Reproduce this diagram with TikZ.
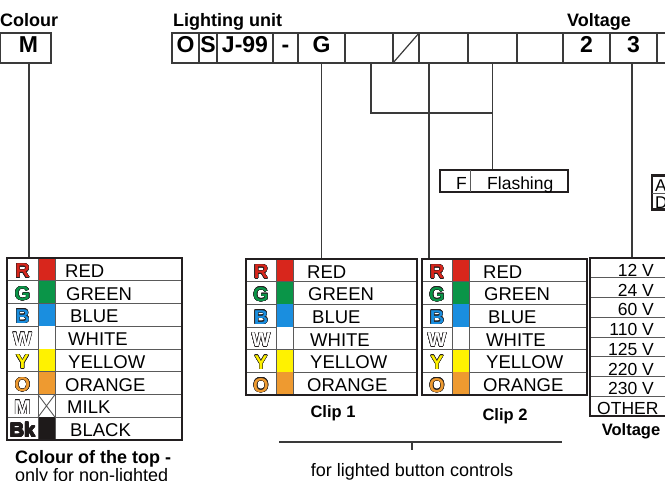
\documentclass[tikz,border=0pt]{standalone}
\usepackage{fontspec}
\setmainfont{Liberation Sans}
\usepackage[copies]{contour}
\usetikzlibrary{positioning}
\definecolor{inkdark}{HTML}{231F20}
\definecolor{wiregray}{HTML}{3A3A3A}
\definecolor{rulegray}{HTML}{5A5A5A}
\definecolor{capred}{HTML}{D8261C}
\definecolor{capgreen}{HTML}{0A9548}
\definecolor{capblue}{HTML}{1A8EDF}
\definecolor{capyellow}{HTML}{FFF200}
\definecolor{caporange}{HTML}{EE9A30}
\definecolor{capblack}{HTML}{1E1A1A}
\contourlength{0.45pt}
\tikzset{
  cell/.style={rectangle,draw=wiregray,line width=1.2pt,minimum height=30pt,inner sep=0pt,text height=13pt,text depth=4pt,font=\fontsize{23}{23}\selectfont\bfseries},
  frame/.style={rectangle,draw=inkdark,line width=2.8pt,inner sep=0pt},
  wire/.style={draw=wiregray,line width=1.2pt},
  rule/.style={draw=rulegray,line width=0.9pt},
  title/.style={anchor=base west,inner sep=0pt,font=\fontsize{18}{18}\selectfont\bfseries},
  caption/.style={anchor=base,inner sep=0pt,font=\fontsize{16.5}{16.5}\selectfont\bfseries},
  entry/.style={anchor=base west,inner sep=0pt,font=\fontsize{18.5}{18.5}\selectfont},
  keyletter/.style={anchor=base,inner sep=0pt,font=\fontsize{20}{20}\selectfont\bfseries},
  voltentry/.style={anchor=base east,inner sep=0pt,font=\fontsize{17.5}{17.5}\selectfont}
}
\newcommand{\keymark}[2]{\textcolor{#1}{\contour{inkdark}{#2}}}
% colour key table: name, left, top, right, bottom, key column, swatch column, row height, rows macro
\newcommand{\colourtable}[9]{%
  \foreach \ltr/\tint/\word/\gap [count=\i] in #9{
    \fill[\tint] (#6,{#3+(\i-1)*#8}) rectangle (#7,{#3+\i*#8});
    \draw[rule] (#2,{#3+\i*#8}) -- (#4,{#3+\i*#8});
    \draw[rule] (#6,{#3+(\i-1)*#8}) -- (#6,{#3+\i*#8}) (#7,{#3+(\i-1)*#8}) -- (#7,{#3+\i*#8});
    \node[keyletter] at ({(#2+#6)/2},{#3+\i*#8-3}) {\keymark{\tint}{\ltr}};
    \node[entry] at ({#7+\gap},{#3+\i*#8-3.5}) {\word};
  }
  \node[frame,minimum width={#4-#2},minimum height={#5-#3}] (#1) at ({(#2+#4)/2},{(#3+#5)/2}) {};
}
\def\toprows{R/capred/RED/10, G/capgreen/GREEN/11, B/capblue/BLUE/15, W/white/WHITE/13, Y/capyellow/YELLOW/13, O/caporange/ORANGE/10, M/white/MILK/12, Bk/capblack/BLACK/15}
\def\cliprows{R/capred/RED/14, G/capgreen/GREEN/15, B/capblue/BLUE/19, W/white/WHITE/17, Y/capyellow/YELLOW/17, O/caporange/ORANGE/14}

\begin{document}
\begin{tikzpicture}[x=1pt,y=-1pt]
\useasboundingbox (0,0) rectangle (665,480);
\clip (0,0) rectangle (665,480);
% headings
\node[title] (colourhead) at (0,26) {Colour};
\node[title] (lighthead) at (173,26) {Lighting unit};
\node[title] (volthead) at (567,26) {Voltage};
% code bar
\node[cell,minimum width=51] (cm) at (25.5,48) {\hspace*{6pt}M};
\foreach \lft/\rgt/\txt [count=\n] in {172/199/O, 199/217/S, 217/273/J-99, 273/298/-, 298/345/G, 345/393/{}, 393/419/{}, 419/468/{}, 468/517/{}, 517/563/{}, 563/610/2, 610/657/3, 657/700/{}}
  \node[cell,minimum width={\rgt-\lft}] (c\n) at ({(\lft+\rgt)/2},48) {\txt};
\draw[wire] (c7.south west) -- (c7.north east);
% colour tables
\colourtable{colourtop}{7}{258}{182}{440}{38}{55}{22.75}{\toprows}
\draw[rule] (38,394.5) -- (55,417.25) (38,417.25) -- (55,394.5);
\colourtable{clipone}{246}{259}{417}{395}{276}{293}{22.667}{\cliprows}
\colourtable{cliptwo}{422}{259}{587}{395}{452}{469}{22.667}{\cliprows}
% voltage table
\foreach \i in {1,...,7}
  \draw[rule] (590,{258+\i*19.75}) -- (700,{258+\i*19.75});
\foreach \v [count=\i] in {12 V, 24 V, 60 V, 110 V, 125 V, 220 V, 230 V}
  \node[voltentry] at (654,{258+\i*19.75-1.5}) {\v};
\node[entry,font=\fontsize{17.5}{17.5}\selectfont] at (597,414.5) {OTHER};
\node[frame,minimum width=110,minimum height=158] (voltage) at (645,337) {};
% option boxes
\node[frame,minimum width=128,minimum height=22] (flash) at (504,181) {};
\draw[rule] (470,170) -- (470,192);
\node[entry,font=\fontsize{17.5}{17.5}\selectfont] at (456,189) {F};
\node[entry,font=\fontsize{17.5}{17.5}\selectfont] at (487,189) {Flashing};
\node[frame,minimum width=40,minimum height=34] (acdc) at (672,192.5) {};
\draw[rule] (652,193) -- (692,193);
\node[entry,font=\fontsize{17}{17}\selectfont] at (655,191) {A};
\node[entry,font=\fontsize{17}{17}\selectfont] at (655,208) {D};
% connectors
\coordinate (fork) at (0,113);
\draw[wire] ([xshift=3.5pt]cm.south) coordinate (mdrop) -- (mdrop |- colourtop.north);
\draw[wire] (c5.south) -- (c5.south |- clipone.north);
\draw[wire] ([xshift=2pt]c6.south) coordinate (forkl) -- (forkl |- fork) -- (c9.south |- fork);
\draw[wire] (c9.south) -- (c9.south |- flash.north);
\draw[wire] ([xshift=-14.5pt]c8.south) coordinate (cdrop) -- (cdrop |- cliptwo.north);
\draw[wire] ([xshift=-1.5pt]c12.south) coordinate (vdrop) -- (vdrop |- voltage.north);
% captions
\node[caption] (clip1cap) at (333,417) {Clip 1};
\node[caption] (clip2cap) at (505,420) {Clip 2};
\node[caption] (voltcap) at (631,435) {Voltage};
\node[title] (topnote) at (15,463) {Colour of the top -};
\node[entry,font=\fontsize{18}{18}\selectfont] (topnote2) at (15,481) {only for non-lighted};
\coordinate (brl) at (279,442);
\coordinate (brr) at (562,442);
\draw[wire] (brl) -- (brr);
\node[entry,anchor=base,font=\fontsize{18}{18}\selectfont] (lightnote) at (412,476) {for lighted button controls};
\draw[wire] (lightnote.north |- brl) -- ++(0,8);
\end{tikzpicture}
\end{document}
